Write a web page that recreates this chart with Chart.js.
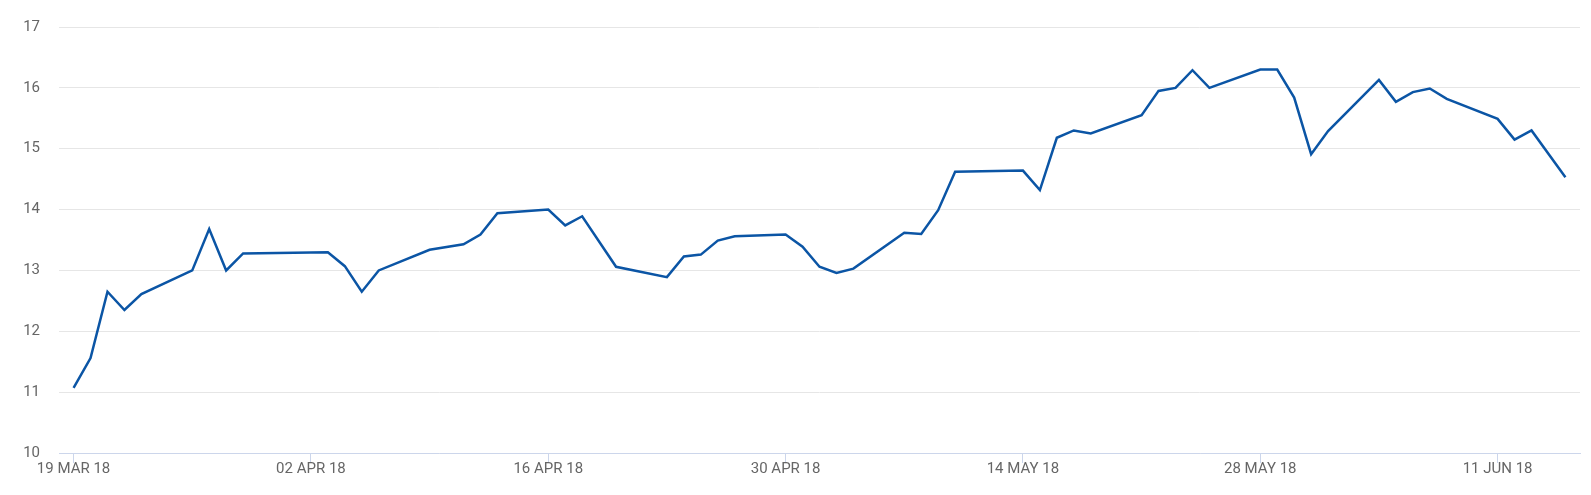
<!DOCTYPE html>
<html>
<head>
<meta charset="utf-8">
<script src="https://cdn.jsdelivr.net/npm/chart.js@4"></script>
<style>
  html, body { margin: 0; padding: 0; background: #ffffff; }
  #wrap { width: 1591px; height: 495px; }
</style>
</head>
<body>
<div id="wrap"><canvas id="c" width="1591" height="495"></canvas></div>
<script>
// ---- data ----
const dates = [
  '2018-03-19','2018-03-20','2018-03-21','2018-03-22','2018-03-23',
  '2018-03-26','2018-03-27','2018-03-28','2018-03-29',
  '2018-04-03','2018-04-04','2018-04-05','2018-04-06',
  '2018-04-09','2018-04-11','2018-04-12','2018-04-13',
  '2018-04-16','2018-04-17','2018-04-18','2018-04-20',
  '2018-04-23','2018-04-24','2018-04-25','2018-04-26','2018-04-27',
  '2018-04-30','2018-05-01','2018-05-02','2018-05-03','2018-05-04',
  '2018-05-07','2018-05-08','2018-05-09','2018-05-10',
  '2018-05-14','2018-05-15','2018-05-16','2018-05-17','2018-05-18',
  '2018-05-21','2018-05-22','2018-05-23','2018-05-24','2018-05-25',
  '2018-05-28','2018-05-29','2018-05-30','2018-05-31','2018-06-01',
  '2018-06-04','2018-06-05','2018-06-06','2018-06-07','2018-06-08',
  '2018-06-11','2018-06-12','2018-06-13','2018-06-15'
];
const values = [
  11.07, 11.56, 12.65, 12.35, 12.61,
  13.00, 13.68, 13.00, 13.28,
  13.30, 13.07, 12.65, 13.00,
  13.34, 13.43, 13.59, 13.94,
  14.00, 13.74, 13.89, 13.06,
  12.89, 13.23, 13.26, 13.49, 13.56,
  13.59, 13.39, 13.06, 12.96, 13.03,
  13.62, 13.60, 13.99, 14.62,
  14.64, 14.32, 15.18, 15.30, 15.25,
  15.55, 15.95, 16.00, 16.29, 16.00,
  16.30, 16.30, 15.84, 14.91, 15.29,
  16.13, 15.77, 15.93, 15.99, 15.82,
  15.49, 15.15, 15.30, 14.53
];
const tickDates  = ['2018-03-19','2018-04-02','2018-04-16','2018-04-30','2018-05-14','2018-05-28','2018-06-11'];
const tickLabels = ['19 MAR 18','02 APR 18','16 APR 18','30 APR 18','14 MAY 18','28 MAY 18','11 JUN 18'];
const yTicks = [10, 11, 12, 13, 14, 15, 16, 17];

// ---- helpers ----
const DAY = 86400000;
const origin = Date.UTC(2018, 2, 19);
function dayOf(s) {
  const p = s.split('-').map(Number);
  return (Date.UTC(p[0], p[1] - 1, p[2]) - origin) / DAY;
}
const points = dates.map((d, i) => ({ x: dayOf(d), y: values[i] }));
const tickDays = tickDates.map(dayOf);
const firstDay = points[0].x, lastDay = points[points.length - 1].x;
const pad = 0.86;

// font detection: condensed font if available
function hasFont(name) {
  const ctx = document.createElement('canvas').getContext('2d');
  ctx.font = '18px monospace';
  const a = ctx.measureText('19 MAR 18 WWW').width;
  ctx.font = '18px "' + name + '", monospace';
  const b = ctx.measureText('19 MAR 18 WWW').width;
  return Math.abs(a - b) > 0.5;
}
const narrow = hasFont('Liberation Sans Narrow');
const labelFont = narrow
  ? { family: '"Liberation Sans Narrow", sans-serif', size: 18, lineHeight: 1 }
  : { family: 'Roboto, "Liberation Sans", sans-serif', size: 15, lineHeight: 1 };

new Chart(document.getElementById('c'), {
  type: 'line',
  data: {
    datasets: [{
      data: points,
      borderColor: '#0b55a5',
      borderWidth: 2.5,
      pointRadius: 0,
      pointHoverRadius: 0,
      tension: 0,
      fill: false
    }]
  },
  options: {
    responsive: false,
    devicePixelRatio: 1,
    animation: false,
    events: [],
    layout: { padding: { top: 27, right: 11, left: 0, bottom: 0 } },
    plugins: { legend: { display: false }, tooltip: { enabled: false }, title: { display: false } },
    scales: {
      x: {
        type: 'linear',
        min: firstDay - pad,
        max: lastDay + pad,
        afterBuildTicks: (scale) => { scale.ticks = tickDays.map(v => ({ value: v })); },
        afterFit: (scale) => { scale.height = 42; },
        grid: {
          drawOnChartArea: false,
          drawTicks: true,
          tickLength: 10,
          color: '#ccd6eb',
          lineWidth: 1
        },
        border: { display: true, color: '#ccd6eb', width: 1 },
        ticks: {
          autoSkip: false,
          maxRotation: 0,
          padding: -1,
          color: '#666666',
          font: labelFont,
          callback: (v, i) => tickLabels[i]
        }
      },
      y: {
        min: 10,
        max: 17,
        afterBuildTicks: (scale) => { scale.ticks = yTicks.map(v => ({ value: v })); },
        afterFit: (scale) => { scale.width = 59; },
        grid: { color: '#e6e6e6', lineWidth: 1, drawTicks: false },
        border: { display: false },
        ticks: {
          padding: 19,
          color: '#666666',
          font: labelFont,
          callback: (v) => String(v)
        }
      }
    }
  }
});
</script>
</body>
</html>
